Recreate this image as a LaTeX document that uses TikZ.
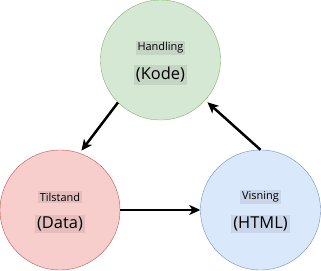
\documentclass[tikz,border=0pt]{standalone}
\usepackage{fontspec}
\setmainfont{Open Sans}
\usepackage{xcolor}
\usetikzlibrary{positioning, arrows.meta}
\definecolor{greenfill}{HTML}{D5E8D4}
\definecolor{greenline}{HTML}{82B366}
\definecolor{redfill}{HTML}{F8CECC}
\definecolor{redline}{HTML}{B85450}
\definecolor{bluefill}{HTML}{DAE8FC}
\definecolor{blueline}{HTML}{6C8EBF}

\begin{document}
\begin{tikzpicture}[x=1bp, y=1bp,
    state/.style={circle, minimum size=120bp, inner sep=0pt},
    small/.style={font=\fontsize{11}{13}\selectfont, inner sep=2pt},
    big/.style={font=\fontsize{16.5}{19}\selectfont, inner sep=2pt},
    arr/.style={-{Stealth[length=11pt, width=10pt, inset=3pt]}, line width=2.5pt}]
  \useasboundingbox (0,0) rectangle (321,271);
  \node[state, fill=greenfill, draw=greenline] (handling) at (160.5,211) {};
  \node[state, fill=redfill, draw=redline] (tilstand) at (60,61) {};
  \node[state, fill=bluefill, draw=blueline] (visning) at (260.5,61) {};
  % labels
  \node[small, fill=greenfill!92!black] (handlingtop) at ([yshift=12bp]handling.center) {Handling};
  \node[big, fill=greenfill!92!black] (handlingbot) at ([yshift=-15bp]handling.center) {(Kode)};
  \node[small, fill=redfill!92!black] (tilstandtop) at ([yshift=13bp]tilstand.center) {Tilstand};
  \node[big, fill=redfill!92!black] (tilstandbot) at ([yshift=-14bp]tilstand.center) {(Data)};
  \node[small, fill=bluefill!92!black] (visningtop) at ([yshift=13bp]visning.center) {Visning};
  \node[big, fill=bluefill!92!black] (visningbot) at ([yshift=-14bp]visning.center) {(HTML)};
  % arrows
  \draw[arr, shorten >=3bp] (handling.225) -- (tilstand.71);
  \draw[arr] (tilstand.east) -- (visning.west);
  \draw[arr, shorten >=3bp] (visning.north) -- (handling.-42);
\end{tikzpicture}
\end{document}
